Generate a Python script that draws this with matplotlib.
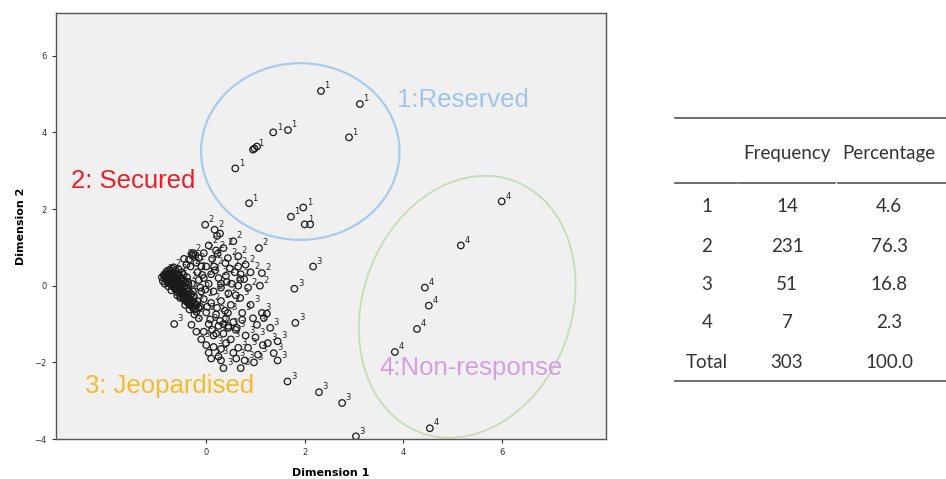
import numpy as np
import matplotlib.pyplot as plt
from matplotlib.patches import Ellipse
from matplotlib.lines import Line2D

# cluster 1: reserved
c1_x = [2.33, 3.12, 2.90, 1.66, 1.36, 0.98, 1.03, 0.95, 0.59, 0.87, 1.97, 1.72, 2.00, 2.11]
c1_y = [5.08, 4.74, 3.87, 4.06, 4.00, 3.58, 3.63, 3.55, 3.06, 2.15, 2.04, 1.80, 1.60, 1.60]

# cluster 2: secured
c2_x = [-0.85, -0.82, -0.80, -0.78, -0.76, -0.75, -0.73, -0.72, -0.70, -0.70,
        -0.68, -0.67, -0.66, -0.65, -0.64, -0.63, -0.62, -0.60, -0.60, -0.58,
        -0.57, -0.56, -0.55, -0.54, -0.52, -0.52, -0.50, -0.50, -0.48, -0.47,
        -0.46, -0.45, -0.44, -0.42, -0.41, -0.40, -0.38, -0.37, -0.36, -0.35,
        -0.33, -0.31, -0.30, -0.28, -0.26, -0.25, -0.22, -0.20, -0.18, -0.15,
        -0.90, -0.88, -0.84, -0.80, -0.77, -0.74, -0.71, -0.69, -0.66, -0.62,
        -0.59, -0.56, -0.53, -0.49, -0.46, -0.43, -0.39, -0.34, -0.29, -0.24,
        -0.83, -0.81, -0.79, -0.77, -0.74, -0.73, -0.71, -0.69, -0.68, -0.66,
        -0.64, -0.63, -0.61, -0.60, -0.58, -0.57, -0.55, -0.54, -0.52, -0.51,
        -0.49, -0.48, -0.46, -0.45, -0.43, -0.42, -0.40, -0.39, -0.37, -0.36,
        -0.34, -0.32, -0.30, -0.28, -0.27, -0.24, -0.22, -0.19, -0.76, -0.86,
        -0.30, -0.26, -0.22, -0.28, -0.35, -0.45, -0.40, -0.32, -0.20, -0.10,
        -0.15, -0.05,
        -0.02, 0.17, 0.22, 0.28, 0.55, 1.07, 0.05, 0.20, 0.23, 0.44,
        0.65, 0.35, 0.00, 0.16, 0.39, 0.65, 1.13, 0.40, 0.69, 0.77,
        0.52, 0.65, 1.09, 0.85, 0.10, 0.25, -0.05, 0.05, 0.30, 0.15,
        0.45, 0.60, -0.05, 0.10, 0.30, 0.50, -0.10, 0.00, 0.20, 0.40,
        -0.15, 0.05, 0.25, -0.05, 0.15, 0.35, 0.55, 0.90, 0.80, 0.58,
        0.48, 0.12, -0.08, 0.02, 0.22, 0.38, -0.12, 0.08, 0.28, 0.45,
        0.62, 0.12, 0.30, 0.42, 0.18, 0.70, -0.18, -0.15, -0.12, -0.02]
c2_y = [0.30, 0.25, 0.20, 0.28, 0.15, 0.32, 0.22, 0.10, 0.26, 0.05,
        0.18, 0.35, 0.00, 0.12, 0.24, -0.05, 0.08, 0.18, -0.10, 0.02,
        0.30, -0.15, 0.10, -0.05, -0.20, 0.20, -0.10, 0.05, -0.25, 0.12,
        -0.15, -0.30, 0.00, -0.20, -0.38, -0.08, -0.28, 0.10, -0.45, -0.15,
        -0.35, -0.52, -0.22, -0.42, -0.60, -0.30, -0.50, -0.68, -0.40, -0.58,
        0.22, 0.12, 0.05, 0.38, -0.02, 0.42, -0.12, 0.45, 0.48, 0.40,
        -0.25, 0.42, -0.32, 0.35, 0.28, -0.50, 0.22, -0.62, 0.05, -0.75,
        0.18, 0.32, 0.10, 0.24, 0.05, 0.30, 0.16, 0.00, 0.28, 0.08,
        -0.08, 0.16, 0.30, 0.00, -0.18, 0.14, -0.08, 0.25, -0.28, 0.00,
        -0.18, 0.18, -0.35, -0.05, -0.25, 0.08, -0.42, -0.15, -0.32, 0.02,
        -0.50, -0.25, -0.40, -0.55, -0.15, -0.45, -0.62, -0.50, 0.36, 0.26,
        0.83, 0.85, 0.80, 0.78, 0.68, 0.70, 0.55, 0.50, 0.60, 0.50,
        0.72, 0.85,
        1.59, 1.46, 1.30, 1.36, 1.16, 0.98, 1.05, 0.92, 0.83, 0.72,
        0.77, 0.98, 0.50, 0.50, 0.59, 0.50, 0.33, 0.26, 0.17, 0.17,
        0.05, 0.00, 0.00, -0.05, 0.30, 0.20, 0.20, 0.05, -0.05, -0.15,
        -0.20, -0.25, -0.35, -0.45, -0.40, -0.50, -0.15, -0.70, -0.75, -0.85,
        -0.85, -1.00, -1.05, -1.20, -1.30, -1.25, -0.95, 0.35, 0.55, 0.35,
        0.45, 0.70, 0.28, -0.55, -0.58, -0.65, -0.55, -0.88, -0.92, -1.05,
        -1.10, -1.15, 0.05, 0.10, 0.40, 0.30, 0.35, 0.15, -0.05, -0.10]

# cluster 3: jeopardised
c3_x = [2.17, 1.79, 1.81, 1.65, 2.29, 2.76, 3.04,
        0.69, 1.13, 1.23, 0.73, 0.44, 0.73, 1.03, 1.17, -0.65, -0.30,
        0.45, 0.60, 0.35, -0.10, 0.15, 0.30, 0.65, 0.85, 1.25, 1.45,
        1.05, 1.37, 1.45, 0.10, 0.25, 0.35, 0.70, 0.97, 0.61, 0.50,
        0.80, 1.00, 0.20, 0.00, 0.40, 0.90, 1.30, 0.55, 0.78, 1.15,
        0.05, -0.20, 0.95, 0.30]
c3_y = [0.50, -0.08, -0.97, -2.50, -2.78, -3.06, -3.93,
        -0.32, -0.71, -0.73, -0.71, -0.71, -0.89, -1.02, -0.84, -1.00, -1.02,
        -1.10, -1.15, -1.00, -1.40, -1.60, -1.65, -1.62, -1.62, -1.50, -1.45,
        -1.80, -1.76, -1.95, -1.90, -1.85, -2.15, -2.15, -2.00, -1.90, -1.40,
        -1.30, -1.35, -1.25, -1.55, -1.50, -0.50, -1.10, -1.75, -1.95, -1.55,
        -1.75, -1.20, -0.85, -1.95]

# cluster 4: non-response
c4_x = [6.00, 5.17, 4.44, 4.52, 4.28, 3.83, 4.54]
c4_y = [2.20, 1.05, -0.05, -0.52, -1.13, -1.73, -3.72]

cluster_names = ["1:Reserved", "2: Secured", "3: Jeopardised", "4:Non-response"]
name_x = [3.87, -2.74, -2.46, 3.51]
name_y = [4.85, 2.72, -2.63, -2.15]
name_colors = ["#9fc5e8", "#e8202a", "#f4bc2c", "#d49fe2"]

table_header = ["", "Frequency", "Percentage"]
table_rows = [["1", "14", "4.6"],
              ["2", "231", "76.3"],
              ["3", "51", "16.8"],
              ["4", "7", "2.3"],
              ["Total", "303", "100.0"]]

fig = plt.figure(figsize=(9.46, 4.79), dpi=100)
ax = fig.add_axes([0.0587, 0.0835, 0.582, 0.889])
ax.set_facecolor("#f0f0f0")
ax.set_xlim(-3.06, 8.12)
ax.set_ylim(-4, 7.11)

# point labels, skipping ones that would sit right on top of an earlier label
placed = []
groups = [(c1_x, c1_y, "1"), (c4_x, c4_y, "4"), (c3_x, c3_y, "3"), (c2_x, c2_y, "2")]
for gx, gy, lab in groups:
    ax.scatter(gx, gy, s=22, facecolors="none", edgecolors="#1a1a1a", linewidths=0.9, zorder=3)
    for x, y in zip(gx, gy):
        px, py = ax.transData.transform((x, y))
        if any(abs(px - qx) < 5.5 and abs(py - qy) < 7 for qx, qy in placed):
            continue
        placed.append((px, py))
        ax.annotate(lab, (x, y), xytext=(2.5, 2), textcoords="offset points",
                    fontsize=6, color="#222222", zorder=4)

ax.add_patch(Ellipse((1.91, 3.50), 4.03, 4.61, fill=False, edgecolor="#a8cbec", linewidth=1.6))
ax.add_patch(Ellipse((5.30, -0.55), 4.3, 6.9, angle=-10, fill=False, edgecolor="#c9dbb6", linewidth=1.3))

for name, x, y, c in zip(cluster_names, name_x, name_y, name_colors):
    ax.text(x, y, name, color=c, fontsize=18.5, va="center", ha="left",
            family="Liberation Sans")

ax.set_xticks([0, 2, 4, 6])
ax.set_yticks([-4, -2, 0, 2, 4, 6])
ax.tick_params(labelsize=6, length=3, width=0.8, colors="#333333")
for s in ax.spines.values():
    s.set_color("#555555")
    s.set_linewidth(1.0)
ax.set_xlabel("Dimension 1", fontsize=8, fontweight="bold", labelpad=8)
ax.set_ylabel("Dimension 2", fontsize=8, fontweight="bold", labelpad=6)

# frequency table
W, H = 946.0, 479.0
col_x = [707, 787, 889]
tf = dict(fontsize=13.5, color="#333333", family="Lato", ha="center", va="center")
fig.add_artist(Line2D([675 / W, 946 / W], [1 - 118 / H, 1 - 118 / H], color="#555555", lw=1.2))
for cx, h in zip(col_x, table_header):
    if h:
        fig.text(cx / W, 1 - 153 / H, h, **tf)
for x0, x1 in [(675, 737), (739, 835), (838, 946)]:
    fig.add_artist(Line2D([x0 / W, x1 / W], [1 - 183 / H, 1 - 183 / H], color="#555555", lw=1.2))
row_y = [207, 246, 284, 323, 363]
for ry, row in zip(row_y, table_rows):
    for cx, v in zip(col_x, row):
        fig.text(cx / W, 1 - ry / H, v, **tf)
fig.add_artist(Line2D([675 / W, 946 / W], [1 - 381 / H, 1 - 381 / H], color="#555555", lw=1.2))

plt.savefig("out.png", dpi=100)
